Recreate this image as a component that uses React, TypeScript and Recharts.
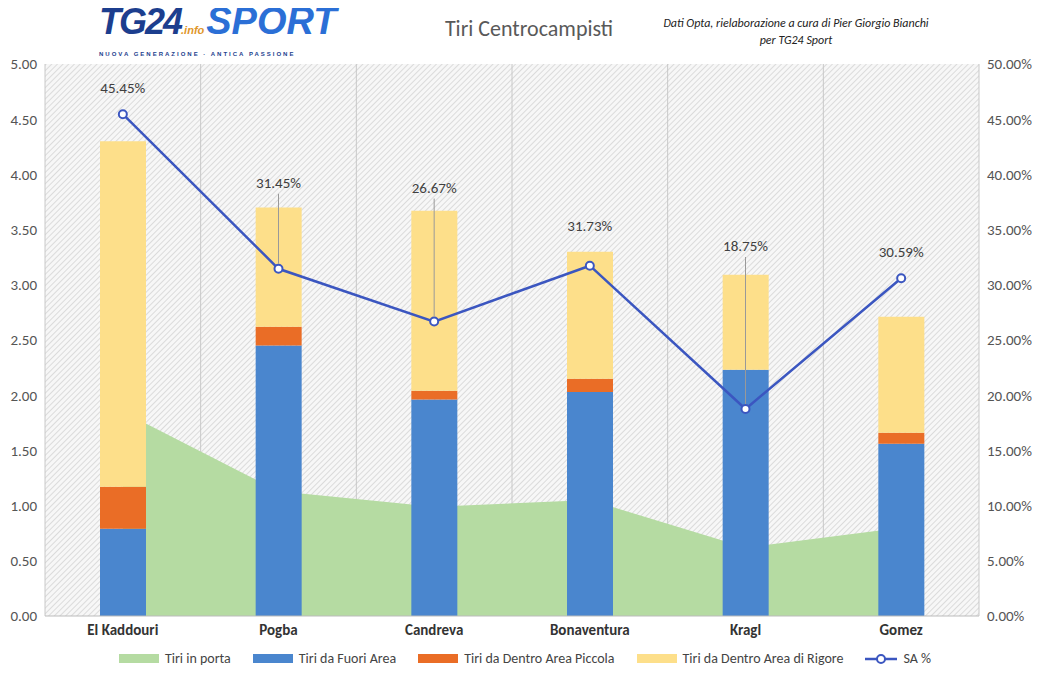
import {
  Area,
  Bar,
  CartesianGrid,
  ComposedChart,
  LabelList,
  Legend,
  Line,
  XAxis,
  YAxis,
} from 'recharts'

const players = ['El Kaddouri', 'Pogba', 'Candreva', 'Bonaventura', 'Kragl', 'Gomez']
const tiriInPorta = [1.85, 1.13, 0.99, 1.05, 0.62, 0.8]
const fuoriArea = [0.79, 2.45, 1.96, 2.03, 2.23, 1.56]
const areaPiccola = [0.38, 0.17, 0.08, 0.12, 0.0, 0.1]
const areaRigore = [3.13, 1.08, 1.63, 1.15, 0.86, 1.05]
const saPct = [45.45, 31.45, 26.67, 31.73, 18.75, 30.59]
const leftTicks = [0, 0.5, 1, 1.5, 2, 2.5, 3, 3.5, 4, 4.5, 5]
const rightTicks = [0, 5, 10, 15, 20, 25, 30, 35, 40, 45, 50]
// how far above its point each SA % label sits (leader line when far)
const labelLift = [21, 81, 129, 35, 158, 21]

const data = players.map((name, i) => ({
  name,
  porta: tiriInPorta[i],
  fuori: fuoriArea[i],
  piccola: areaPiccola[i],
  rigore: areaRigore[i],
  sa: saPct[i],
}))

const legendItems = [
  { label: 'Tiri in porta', color: '#B5DBA2', kind: 'rect' },
  { label: 'Tiri da Fuori Area', color: '#4A86CE', kind: 'rect' },
  { label: 'Tiri da Dentro Area Piccola', color: '#EA6D26', kind: 'rect' },
  { label: 'Tiri da Dentro Area di Rigore', color: '#FDDF8A', kind: 'rect' },
  { label: 'SA %', color: '#3B56C0', kind: 'line' },
]

function LegendContent() {
  return (
    <div style={{ display: 'flex', justifyContent: 'center', gap: 22, fontSize: 14, color: '#444' }}>
      {legendItems.map((it) => (
        <div key={it.label} style={{ display: 'flex', alignItems: 'center', gap: 6 }}>
          {it.kind === 'rect' ? (
            <span style={{ width: 40, height: 9, background: it.color, display: 'inline-block' }} />
          ) : (
            <svg width={32} height={12}>
              <line x1={0} y1={6} x2={32} y2={6} stroke={it.color} strokeWidth={2.5} />
              <circle cx={16} cy={6} r={4} fill="#fff" stroke={it.color} strokeWidth={2} />
            </svg>
          )}
          <span>{it.label}</span>
        </div>
      ))}
    </div>
  )
}

function SaLabel(props: any) {
  const { x, y, value, index } = props
  const lift = labelLift[index] ?? 20
  const ty = y - lift
  return (
    <g>
      {lift > 40 && <line x1={x} y1={y - 5} x2={x} y2={ty + 6} stroke="#999" strokeWidth={1} />}
      <text x={x} y={ty} textAnchor="middle" fill="#404040" fontSize={15}>
        {`${Number(value).toFixed(2)}%`}
      </text>
    </g>
  )
}

const tick = { fill: '#555', fontSize: 15 }

export default function App() {
  return (
    <div
      style={{
        position: 'relative',
        margin: -8,
        width: 1054,
        height: 689,
        border: '1px solid #bbb',
        borderRadius: 6,
        background: '#fff',
        fontFamily: 'Calibri, Carlito, "Open Sans", sans-serif',
        overflow: 'hidden',
      }}
    >
      <div style={{ position: 'absolute', left: 98, top: 0, fontFamily: 'Arial, sans-serif', fontWeight: 900, fontStyle: 'italic', lineHeight: '40px' }}>
        <span style={{ fontSize: 36, color: '#1C3E8E', letterSpacing: -2 }}>TG24</span>
        <span style={{ fontSize: 11, color: '#E0962A' }}>.info</span>
        <span style={{ fontSize: 38, color: '#2B6FD6', marginLeft: 2 }}>SPORT</span>
        <div style={{ fontSize: 6, color: '#1C3E8E', letterSpacing: 2, lineHeight: '8px', fontStyle: 'normal' }}>
          NUOVA GENERAZIONE · ANTICA PASSIONE
        </div>
      </div>
      <div style={{ position: 'absolute', left: 0, width: 1056, top: 14, textAlign: 'center', fontSize: 22, color: '#595959' }}>
        Tiri Centrocampisti
      </div>
      <div
        style={{
          position: 'absolute',
          left: 660,
          width: 270,
          top: 14,
          textAlign: 'center',
          fontSize: 12,
          fontStyle: 'italic',
          color: '#222',
          lineHeight: '17px',
        }}
      >
        Dati Opta, rielaborazione a cura di Pier Giorgio Bianchi per TG24 Sport
      </div>
      <ComposedChart
        width={1056}
        height={691}
        data={data}
        margin={{ top: 63, right: 8, left: 0, bottom: 12 }}
        barSize={46}
      >
        <defs>
          <pattern id="hatch" width="4" height="4" patternUnits="userSpaceOnUse" patternTransform="rotate(45)">
            <rect width="4" height="4" fill="#f7f7f7" />
            <line x1="0" y1="0" x2="0" y2="4" stroke="#c8c8c8" strokeWidth="1.2" />
          </pattern>
        </defs>
        <CartesianGrid fill="url(#hatch)" horizontal={false} vertical stroke="#c8c8c8" verticalCoordinatesGenerator={({ offset }) => [0, 1, 2, 3, 4, 5, 6].map((i) => (offset.left ?? 0) + (i * (offset.width ?? 0)) / 6)} />
        <XAxis dataKey="name" tick={{ fill: '#333', fontSize: 15, fontWeight: 700 }} tickLine={false} axisLine={{ stroke: '#bbb' }} height={34} />
        <YAxis yAxisId="l" domain={[0, 5]} ticks={leftTicks} tickFormatter={(v) => v.toFixed(2)} tick={tick} axisLine={false} tickLine={false} width={44} />
        <YAxis yAxisId="r" orientation="right" domain={[0, 50]} ticks={rightTicks} tickFormatter={(v) => `${v.toFixed(2)}%`} tick={tick} axisLine={false} tickLine={false} width={70} />
        <Area yAxisId="l" type="linear" dataKey="porta" fill="#B5DBA2" fillOpacity={1} stroke="none" isAnimationActive={false} />
        <Bar yAxisId="l" dataKey="fuori" stackId="s" fill="#4A86CE" isAnimationActive={false} />
        <Bar yAxisId="l" dataKey="piccola" stackId="s" fill="#EA6D26" isAnimationActive={false} />
        <Bar yAxisId="l" dataKey="rigore" stackId="s" fill="#FDDF8A" isAnimationActive={false} />
        <Line yAxisId="r" type="linear" dataKey="sa" stroke="#3B56C0" strokeWidth={2.5} dot={{ r: 4, fill: '#fff', stroke: '#3B56C0', strokeWidth: 2 }} isAnimationActive={false}>
          <LabelList dataKey="sa" content={<SaLabel />} />
        </Line>
        <Legend content={<LegendContent />} verticalAlign="bottom" height={30} />
      </ComposedChart>
    </div>
  )
}
